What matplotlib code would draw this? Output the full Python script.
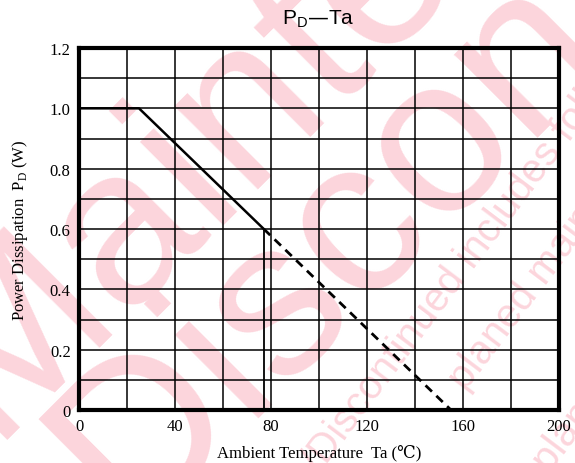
import matplotlib
matplotlib.use("Agg")
import matplotlib.pyplot as plt
from matplotlib.ticker import MultipleLocator, FixedLocator

# Data
temp_solid = [0, 25, 77]
pd_solid = [1.0, 1.0, 0.6]
temp_dash = [77, 155]
pd_dash = [0.6, 0.0]
temp_vert = [77, 77]
pd_vert = [0.0, 0.6]
xticks = [0, 40, 80, 120, 160, 200]
xticklabels = ["0", "40", "80", "120", "160", "200"]
yticks = [0, 0.2, 0.4, 0.6, 0.8, 1.0, 1.2]
yticklabels = ["0", "0.2", "0.4", "0.6", "0.8", "1.0", "1.2"]

W, H = 575, 464
fig = plt.figure(figsize=(W / 100, H / 100), dpi=100)
fig.patch.set_facecolor("white")


def px(x, y):
    return x / W, 1 - y / H


# watermark (filled pale pink letters)
pink = "#fcd5dc"
wm = [
    ("Maintenance/", (-10, 440), 160, 45),
    ("Discontinued", (130, 528), 160, 45),
    ("/Discontinued includes following four Product lifecycle stage.", (320, 474), 29, 53),
    ("planed maintenance type, maintenance type, planed discontinued typed,", (466, 392), 29, 53),
    ("planed maintenance type", (550, 474), 29, 53),
]
for txt, (x, y), fs, rot in wm:
    fx, fy = px(x, y)
    fig.text(fx, fy, txt, fontsize=fs, color=pink, rotation=rot, rotation_mode="anchor",
             family="Liberation Sans", ha="left", va="baseline", zorder=0)

ax = fig.add_axes([79 / W, 1 - 411 / H, (559 - 79) / W, (411 - 49) / H])
ax.set_facecolor("none")
ax.set_zorder(1)

ax.set_xlim(0, 200)
ax.set_ylim(0, 1.2)
ax.xaxis.set_major_locator(FixedLocator(xticks))
ax.yaxis.set_major_locator(FixedLocator(yticks))
ax.set_xticklabels(xticklabels)
ax.set_yticklabels(yticklabels)
ax.xaxis.set_minor_locator(MultipleLocator(20))
ax.yaxis.set_minor_locator(MultipleLocator(0.1))
ax.grid(True, which="both", color="black", linewidth=1.1)
ax.tick_params(which="both", length=0, pad=6)
for lab in ax.get_xticklabels() + ax.get_yticklabels():
    lab.set_family("Liberation Serif")
    lab.set_fontsize(12)

for s in ax.spines.values():
    s.set_linewidth(3)
    s.set_color("black")

ax.plot(temp_solid, pd_solid, color="black", linewidth=1.8, solid_capstyle="butt", zorder=3)
ax.plot(temp_dash, pd_dash, color="black", linewidth=2, linestyle=(0, (3.2, 2.2)), zorder=3)
ax.plot(temp_vert, pd_vert, color="black", linewidth=1.3, zorder=3)

fig.text(318 / W, 1 - 19 / H, r"P$_{\mathregular{D}}$—Ta", ha="center", va="center",
         fontsize=15, family="Liberation Sans")
ax.set_xlabel("Ambient Temperature  Ta (℃)", family=["Liberation Serif", "DejaVu Serif"],
              fontsize=12, labelpad=7)
ax.set_ylabel(r"Power Dissipation  P$_{\mathregular{D}}$ (W)", family="Liberation Serif",
              fontsize=12, labelpad=14)

fig.savefig("out.png", dpi=100)
